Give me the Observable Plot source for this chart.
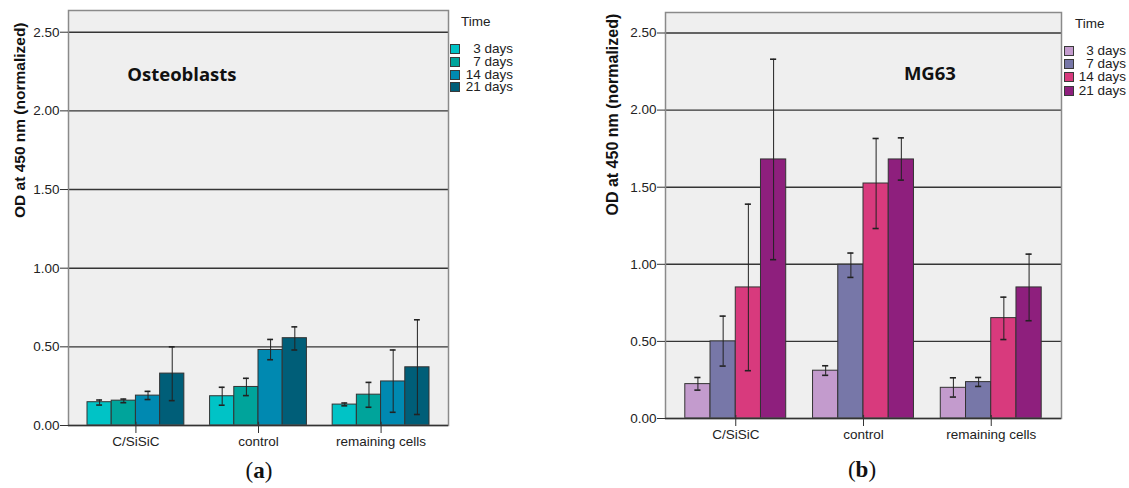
<!DOCTYPE html>
<html>
<head>
<meta charset="utf-8">
<script src="https://cdn.jsdelivr.net/npm/d3@7"></script>
<script src="https://cdn.jsdelivr.net/npm/@observablehq/plot@0.6"></script>
<style>
  body { margin: 0; background: #fff; }
  #wrap { position: relative; width: 1129px; height: 488px; overflow: hidden;
          font-family: "Liberation Sans", Arial, sans-serif; color: #222; }
  .panel { position: absolute; top: 0; }
  .legend { position: absolute; font-size: 13.5px; color: #222; }
  .legend .ttl { position: absolute; left: 11px; top: 0; line-height: 16px; white-space: nowrap; }
  .legend .row { position: absolute; left: 0; height: 14px; display: flex; align-items: center; white-space: nowrap; }
  .legend .sw { width: 8px; height: 8px; border: 1px solid #3a3a3a; flex: none; }
  .legend .lab { text-align: right; line-height: 14px; }
  .plabel { position: absolute; font-family: "Liberation Serif", "DejaVu Serif", serif; font-size: 23px; color: #111; transform: translateX(-50%); white-space: nowrap; }
  .plabel b { font-weight: bold; }
</style>
</head>
<body>
<div id="wrap"></div>
<script>
// ---------- data ----------
const groups = ["C/SiSiC", "control", "remaining cells"];
const times = ["3 days", "7 days", "14 days", "21 days"];
const yTicks = [0, 0.5, 1, 1.5, 2, 2.5];

// Osteoblasts (a): rows = groups, columns = times
const osteoMean = [[0.148, 0.158, 0.19, 0.33], [0.186, 0.245, 0.48, 0.555], [0.133, 0.196, 0.28, 0.37]];
const osteoLow  = [[0.13, 0.145, 0.165, 0.158], [0.129, 0.19, 0.418, 0.48], [0.125, 0.116, 0.084, 0.07]];
const osteoHigh = [[0.162, 0.168, 0.217, 0.50], [0.243, 0.30, 0.547, 0.627], [0.143, 0.274, 0.48, 0.672]];

// MG63 (b)
const mgMean = [[0.223, 0.50, 0.85, 1.68], [0.31, 0.997, 1.524, 1.68], [0.199, 0.236, 0.651, 0.85]];
const mgLow  = [[0.184, 0.34, 0.31, 1.03], [0.28, 0.915, 1.232, 1.546], [0.139, 0.208, 0.512, 0.634]];
const mgHigh = [[0.266, 0.664, 1.39, 2.33], [0.342, 1.073, 1.816, 1.82], [0.264, 0.266, 0.787, 1.066]];

const osteoColors = ["#00c3c6", "#00a49b", "#0089b1", "#005e78"];
const mgColors = ["#c39bcd", "#7777a8", "#d83a7d", "#8e1f7d"];

const yTitle = "OD at 450 nm (normalized)";

// ---------- helpers ----------
const groupW = 0.79, barW = groupW / 4, capHalf = 0.024;
const sans = '"Liberation Sans", Arial, sans-serif';

function rowsFor(mean, low, high) {
  const rows = [];
  groups.forEach((g, gi) => times.forEach((t, ti) => {
    const x1 = gi - groupW / 2 + ti * barW;
    rows.push({group: g, time: t, ti, x1, x2: x1 + barW, c: x1 + barW / 2,
               mean: mean[gi][ti], low: low[gi][ti], high: high[gi][ti]});
  }));
  return rows;
}

function panel(cfg) {
  const rows = rowsFor(cfg.mean, cfg.low, cfg.high);
  const svg = Plot.plot({
    width: cfg.width, height: 488,
    marginLeft: cfg.ml, marginRight: cfg.mr, marginTop: cfg.mt, marginBottom: cfg.mb,
    style: {fontFamily: sans, fontSize: "13.5px", color: "#222", background: "transparent"},
    x: {type: "linear", domain: [-0.55, 2.55]},
    y: {domain: [0, cfg.ymax]},
    color: {domain: times, range: cfg.colors},
    marks: [
      Plot.frame({fill: "#efefef", stroke: null}),
      Plot.ruleY(yTicks.filter(d => d > 0), {stroke: "#353535", strokeWidth: 1.4}),
      Plot.rectY(rows, {x1: "x1", x2: "x2", y1: 0, y2: "mean", fill: "time", stroke: "#333", strokeWidth: 1}),
      Plot.ruleX(rows, {x: "c", y1: "low", y2: "high", stroke: "#222", strokeWidth: 1}),
      Plot.ruleY(rows, {y: "low", x1: d => d.c - capHalf, x2: d => d.c + capHalf, stroke: "#222", strokeWidth: 1.6}),
      Plot.ruleY(rows, {y: "high", x1: d => d.c - capHalf, x2: d => d.c + capHalf, stroke: "#222", strokeWidth: 1.6}),
      Plot.frame({stroke: "#8a8a8a", strokeWidth: 1.5}),
      Plot.ruleY([0], {stroke: "#333", strokeWidth: 1.5}),
      Plot.ruleX([0, 1, 2], {y1: 0, y2: 0.02, stroke: "#333", strokeWidth: 1.2}),
      Plot.axisY({ticks: yTicks, tickFormat: d3.format(".2f"), tickSize: 8, tickPadding: 1, label: null,
                  stroke: "#333", fontSize: 13.5, fontFamily: sans, fill: "#222"}),
      Plot.axisX({ticks: [0, 1, 2], tickFormat: i => groups[i], tickSize: 8, tickPadding: 3, label: null,
                  stroke: "#333", fontSize: 13.5, fontFamily: sans, fill: "#222"}),
      Plot.text([yTitle], {frameAnchor: "left", dx: cfg.titleDx, rotate: -90, fontWeight: "bold",
                           fontSize: cfg.titleSize, fontFamily: sans, fill: "#111"}),
      Plot.text([cfg.name], {x: cfg.nameX, y: cfg.nameY, fontWeight: "bold", fontSize: 18.5,
                             fontFamily: '"Open Sans", sans-serif', fill: "#111"})
    ]
  });
  svg.classList.add("panel");
  svg.style.left = cfg.left + "px";
  return svg;
}

function legend(cfg) {
  const div = document.createElement("div");
  div.className = "legend";
  div.style.left = cfg.left + "px";
  div.style.top = cfg.top + "px";
  const t = document.createElement("div");
  t.className = "ttl"; t.textContent = "Time";
  div.appendChild(t);
  times.forEach((name, i) => {
    const r = document.createElement("div");
    r.className = "row";
    r.style.top = (cfg.rowTop + i * cfg.step) + "px";
    const sw = document.createElement("span");
    sw.className = "sw"; sw.style.background = cfg.colors[i];
    const lab = document.createElement("span");
    lab.className = "lab"; lab.style.width = cfg.labW + "px"; lab.textContent = name;
    r.appendChild(sw); r.appendChild(lab);
    div.appendChild(r);
  });
  return div;
}

function pLabel(letter, x, y) {
  const d = document.createElement("div");
  d.className = "plabel";
  d.style.left = x + "px"; d.style.top = y + "px";
  d.innerHTML = "(<b>" + letter + "</b>)";
  return d;
}

const wrap = document.getElementById("wrap");
wrap.appendChild(panel({left: 0, width: 560, ml: 68, mr: 112, mt: 10, mb: 63, ymax: 2.638,
  mean: osteoMean, low: osteoLow, high: osteoHigh, colors: osteoColors,
  titleDx: -48, titleSize: 15.5, name: "Osteoblasts", nameX: 0.375, nameY: 2.23}));
wrap.appendChild(panel({left: 560, width: 569, ml: 105, mr: 68, mt: 12, mb: 70, ymax: 2.633,
  mean: mgMean, low: mgLow, high: mgHigh, colors: mgColors,
  titleDx: -53, titleSize: 16, name: "MG63", nameX: 1.52, nameY: 2.235}));
wrap.appendChild(legend({left: 450, top: 14, rowTop: 28, step: 12.8, labW: 53, colors: osteoColors}));
wrap.appendChild(legend({left: 1064, top: 16, rowTop: 28, step: 13.2, labW: 52, colors: mgColors}));
wrap.appendChild(pLabel("a", 259, 458));
wrap.appendChild(pLabel("b", 862, 457));
</script>
</body>
</html>
